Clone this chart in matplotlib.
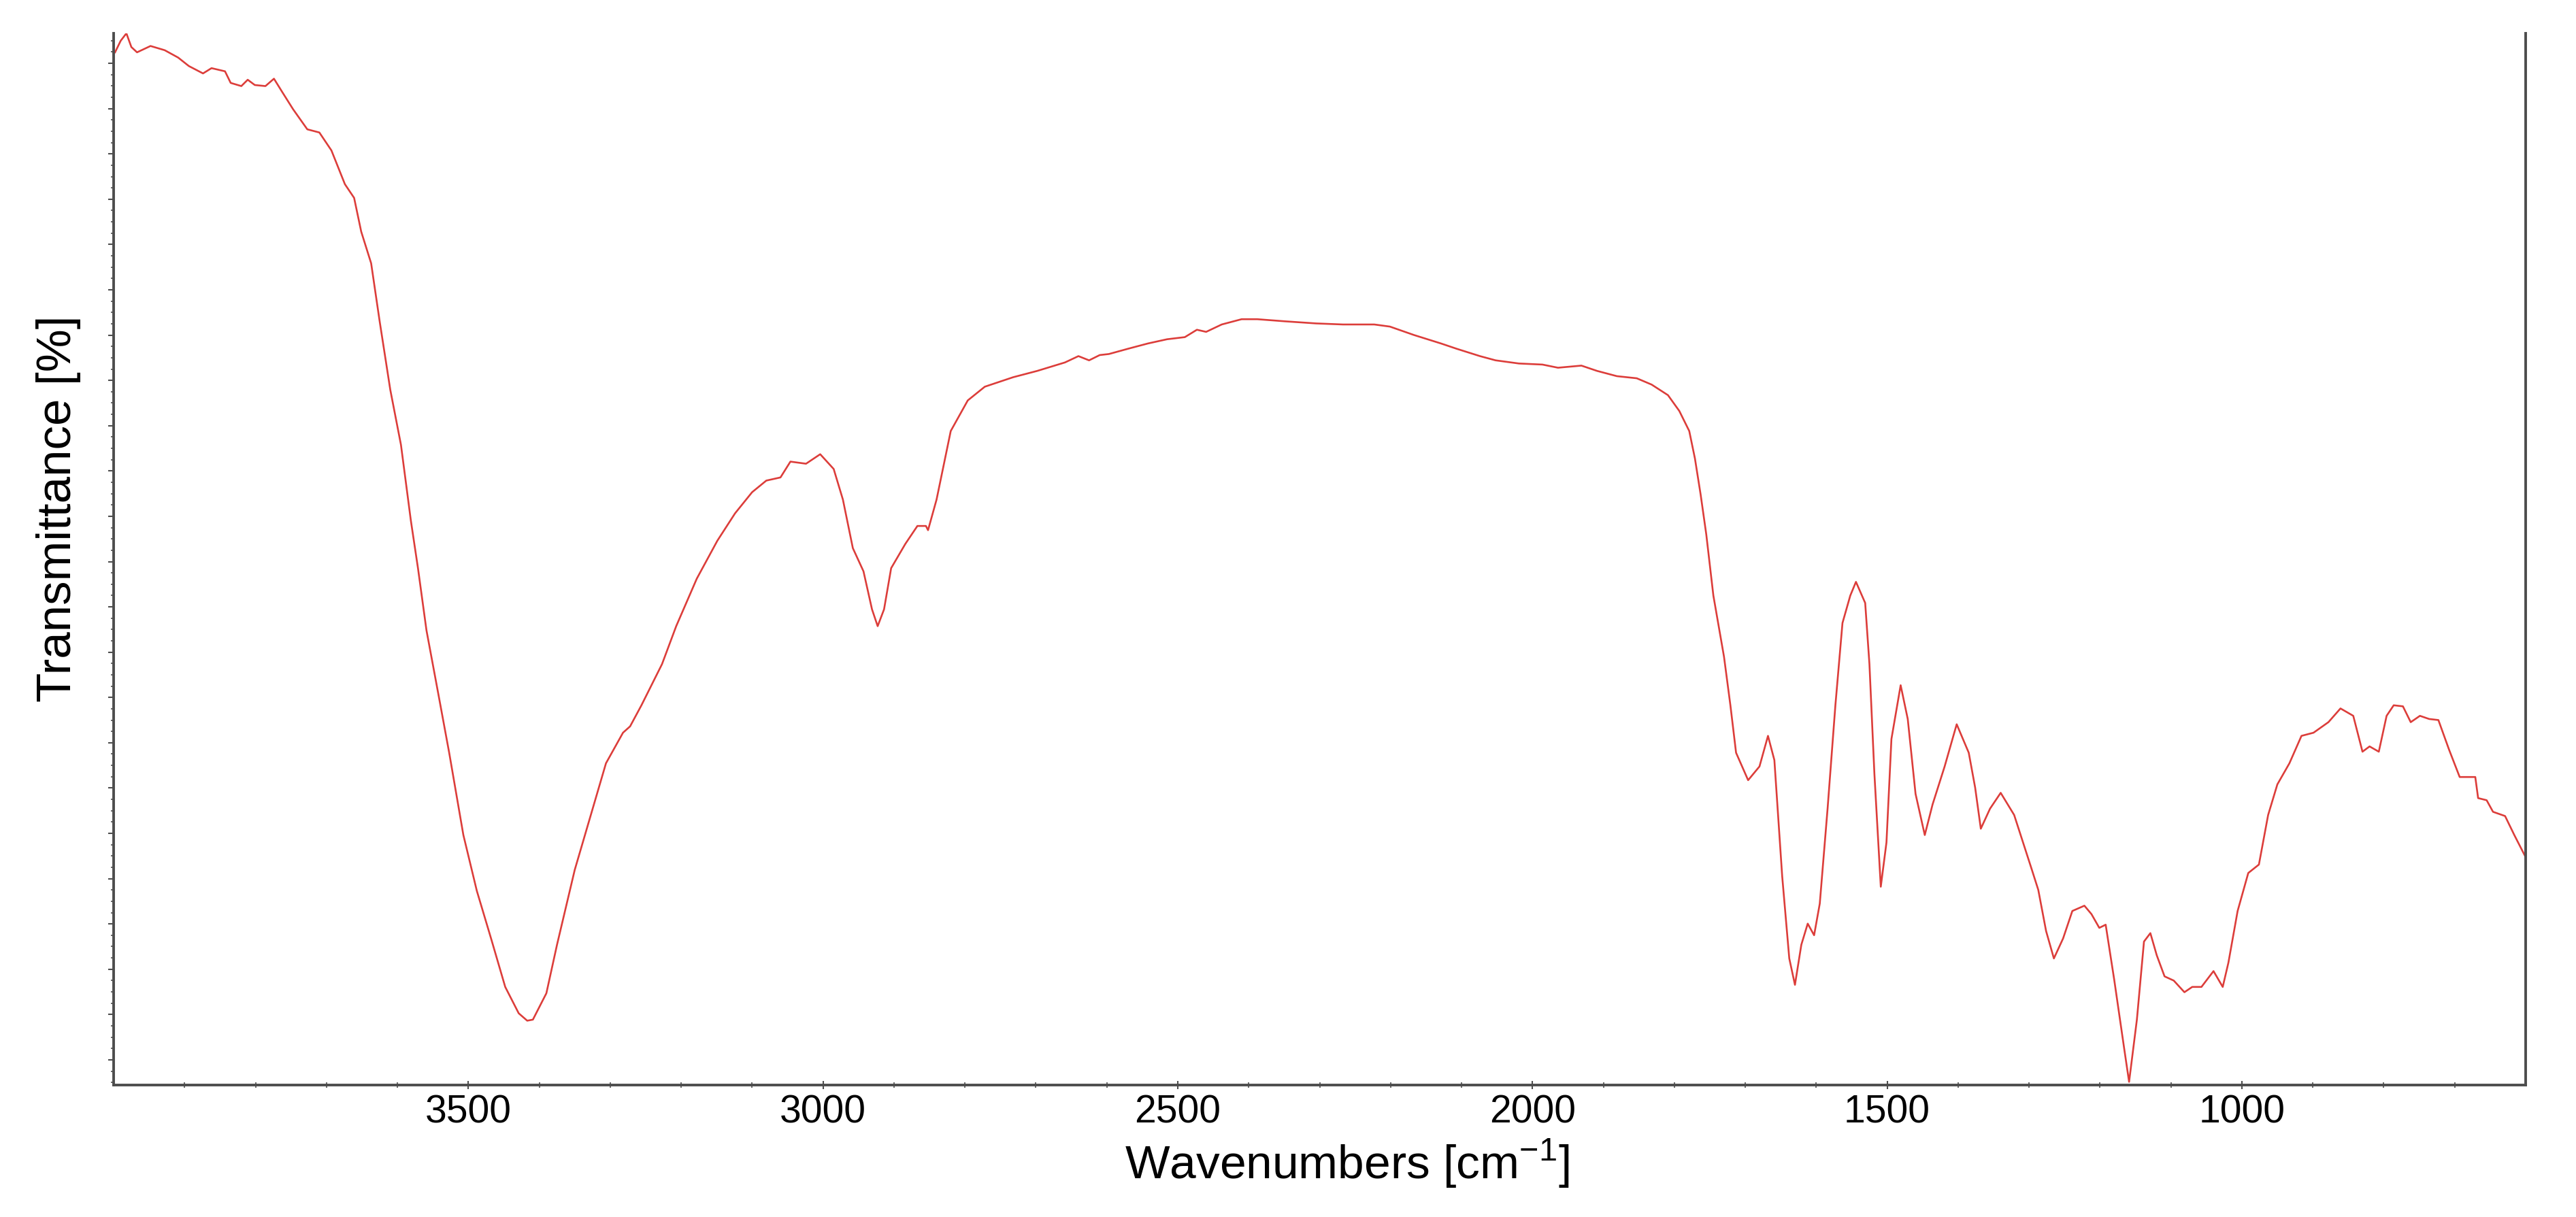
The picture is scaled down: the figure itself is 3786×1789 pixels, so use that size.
import numpy as np
import matplotlib
matplotlib.use("Agg")
import matplotlib.pyplot as plt
from matplotlib import font_manager
from matplotlib.ticker import FixedLocator, NullFormatter

plt.rcParams['mathtext.fontset'] = 'custom'
plt.rcParams['mathtext.rm'] = 'Liberation Sans'

# ---- data ----
wavenumber = [3998, 3990, 3982, 3975, 3967, 3948, 3928, 3909, 3894, 3874, 3862, 3843, 3835, 3820,
              3811, 3801, 3786, 3774, 3762, 3747, 3727, 3710, 3693, 3674, 3661, 3651, 3637, 3625,
              3610, 3595, 3581, 3571, 3559, 3541, 3527, 3507, 3488, 3468, 3448, 3429, 3417, 3409,
              3390, 3375, 3350, 3326, 3306, 3282, 3272, 3256, 3227, 3207, 3178, 3149, 3124, 3100,
              3080, 3060, 3046, 3024, 3004, 2985, 2972, 2958, 2943, 2931, 2923, 2914, 2904, 2884,
              2867, 2855, 2852, 2840, 2820, 2796, 2772, 2732, 2698, 2659, 2640, 2625, 2610, 2597,
              2570, 2542, 2515, 2490, 2473, 2460, 2438, 2410, 2388, 2349, 2305, 2267, 2223, 2201,
              2167, 2129, 2107, 2074, 2052, 2019, 1986, 1964, 1931, 1909, 1881, 1853, 1832, 1809,
              1793, 1779, 1771, 1763, 1755, 1745, 1730, 1721, 1713, 1696, 1680, 1668, 1659, 1648,
              1638, 1630, 1621, 1612, 1603, 1595, 1584, 1573, 1563, 1552, 1544, 1531, 1525, 1518,
              1509, 1501, 1494, 1481, 1471, 1460, 1447, 1436, 1419, 1402, 1385, 1376, 1368, 1355,
              1340, 1321, 1296, 1287, 1276, 1265, 1252, 1239, 1222, 1212, 1201, 1192, 1180, 1166,
              1159, 1148, 1138, 1129, 1120, 1109, 1096, 1081, 1070, 1057, 1040, 1027, 1019, 1006,
              991, 976, 963, 950, 933, 916, 899, 878, 861, 843, 830, 820, 807, 796, 786, 773, 762,
              749, 736, 723, 708, 693, 684, 671, 667, 655, 646, 629, 616, 600]
transmittance = [97.9, 99.0, 99.7, 98.4, 97.9, 98.5, 98.1, 97.4, 96.6, 95.9, 96.4, 96.1, 95.0, 94.7,
                 95.3, 94.8, 94.7, 95.4, 94.1, 92.5, 90.6, 90.3, 88.6, 85.4, 84.1, 80.9, 77.9, 72.4,
                 65.9, 60.7, 53.5, 49.0, 43.1, 36.6, 31.5, 23.7, 18.4, 13.9, 9.3, 6.8, 6.1, 6.2,
                 8.7, 13.3, 20.4, 25.9, 30.5, 33.4, 34.0, 36.0, 39.9, 43.5, 48.0, 51.6, 54.2, 56.2,
                 57.3, 57.6, 59.1, 58.9, 59.8, 58.4, 55.5, 50.9, 48.7, 45.1, 43.5, 45.1, 49.0, 51.3,
                 53.0, 53.0, 52.6, 55.5, 62.0, 64.9, 66.2, 67.1, 67.7, 68.5, 69.1, 68.7, 69.2, 69.3,
                 69.8, 70.3, 70.7, 70.9, 71.6, 71.4, 72.1, 72.6, 72.6, 72.4, 72.2, 72.1, 72.1, 71.9,
                 71.1, 70.3, 69.8, 69.1, 68.7, 68.4, 68.3, 68.0, 68.2, 67.7, 67.2, 67.0, 66.4, 65.4,
                 63.9, 62.0, 59.4, 56.0, 52.2, 46.4, 40.6, 36.0, 31.5, 28.9, 30.2, 33.1, 30.8, 19.8,
                 12.0, 9.5, 13.3, 15.3, 14.2, 17.2, 26.2, 36.0, 43.8, 46.4, 47.7, 45.7, 39.9, 29.5,
                 18.8, 23.0, 32.8, 37.9, 34.7, 27.6, 23.7, 26.6, 30.2, 34.2, 31.5, 28.2, 24.3, 26.2,
                 27.7, 25.6, 20.4, 18.5, 14.6, 12.0, 13.9, 16.5, 17.0, 16.2, 14.9, 15.2, 10.0, 3.5,
                 0.3, 6.2, 13.6, 14.4, 12.3, 10.3, 9.9, 8.8, 9.3, 9.3, 10.8, 9.3, 11.6, 16.5,
                 20.1, 20.9, 25.6, 28.5, 30.5, 33.1, 33.4, 34.4, 35.7, 35.0, 31.6, 32.1, 31.6, 35.0, 36.0, 35.9, 34.4,
                 35.0, 34.7, 34.6, 31.8, 29.2, 29.2, 29.2, 27.2, 27.0, 25.9, 25.5, 23.7, 21.6]
x_major_ticks = [3500, 3000, 2500, 2000, 1500, 1000]
x_label = r'Wavenumbers [cm$^{\mathregular{-1}}$]'
y_label = 'Transmittance [%]'

# condensed face for tick labels if present, otherwise a slightly smaller regular face
_names = {f.name for f in font_manager.fontManager.ttflist}
if 'Liberation Sans Narrow' in _names:
    tick_family, tick_size = 'Liberation Sans Narrow', 45
else:
    tick_family, tick_size = 'Liberation Sans', 41

W, H = 3786, 1790
fig = plt.figure(figsize=(W / 100, H / 100), dpi=100)
ax = fig.add_axes([167 / W, 1 - 1596 / H, (3712 - 167) / W, (1596 - 50) / H])

ax.plot(wavenumber, transmittance, color='#dc3d3a', lw=1.9, solid_joinstyle='round')
ax.set_xlim(4000, 600)
ax.set_ylim(0, 99.7)

spine_col = '#4d4d4d'
for s in ['left', 'bottom', 'right']:
    ax.spines[s].set_color(spine_col)
    ax.spines[s].set_linewidth(2.8)
ax.spines['top'].set_visible(False)

ax.xaxis.set_major_locator(FixedLocator(x_major_ticks))
ax.xaxis.set_minor_locator(FixedLocator(np.arange(700, 4000, 100)))
ax.tick_params(axis='x', which='major', direction='inout', length=8, width=1.5,
               color=spine_col, pad=5, labelsize=tick_size)
ax.tick_params(axis='x', which='minor', direction='inout', length=6, width=1.2, color=spine_col)

ystep = 4.294
ax.yaxis.set_major_locator(FixedLocator(np.arange(2.39, 99.7, ystep)))
ax.yaxis.set_minor_locator(FixedLocator(np.arange(2.39 - ystep, 99.7, ystep / 4)))
ax.yaxis.set_major_formatter(NullFormatter())
ax.tick_params(axis='y', which='major', direction='out', length=6, width=1.5, color=spine_col)
ax.tick_params(axis='y', which='minor', direction='out', length=3, width=1.2, color=spine_col)

for lab in ax.get_xticklabels():
    lab.set_family(tick_family)

ax.set_xlabel(x_label, fontsize=50, family='Liberation Sans', va='baseline', ha='center')
ax.xaxis.set_label_coords(1980 / W, 1 - 1733 / H, transform=fig.transFigure)
ax.set_ylabel(y_label, fontsize=51, family='Liberation Sans', va='center', ha='center')
ax.yaxis.set_label_coords(86 / W, 1 - 748 / H, transform=fig.transFigure)

fig.savefig('out.png', dpi=100, facecolor='white')
